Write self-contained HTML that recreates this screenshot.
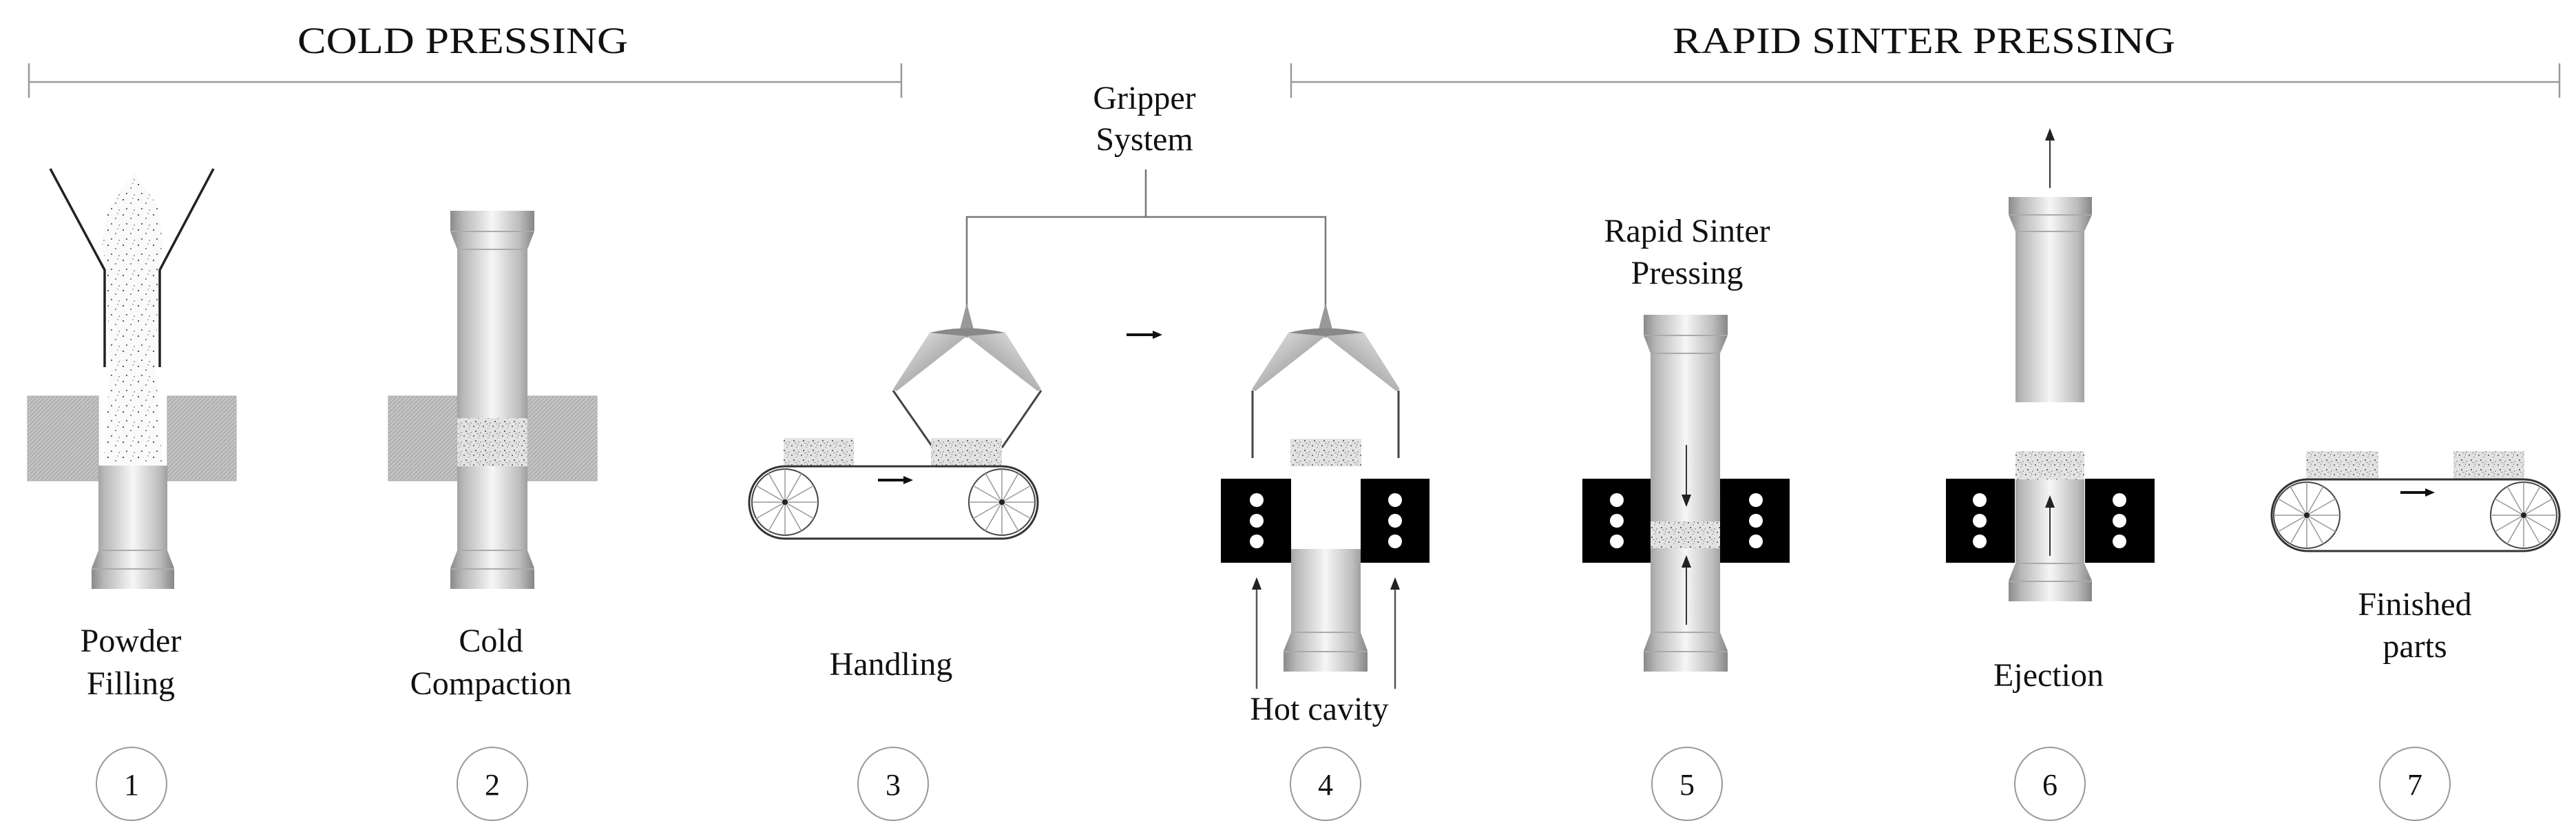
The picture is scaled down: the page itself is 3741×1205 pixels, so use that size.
<!DOCTYPE html>
<html><head><meta charset="utf-8"><style>
html,body{margin:0;padding:0;background:#fff}
svg{display:block}
text{font-family:"Liberation Serif",serif;fill:#111}
</style></head><body>
<svg width="3741" height="1205" viewBox="0 0 3741 1205" xmlns="http://www.w3.org/2000/svg">
<defs>
<linearGradient id="met" x1="0" y1="0" x2="1" y2="0">
<stop offset="0" stop-color="#8a8a8a"/><stop offset="0.15" stop-color="#b8b8b8"/>
<stop offset="0.5" stop-color="#f6f6f6"/><stop offset="0.82" stop-color="#bdbdbd"/>
<stop offset="1" stop-color="#868686"/></linearGradient>
<linearGradient id="wing" x1="0" y1="0" x2="1" y2="1">
<stop offset="0" stop-color="#f0f0f0"/><stop offset="1" stop-color="#7a7a7a"/></linearGradient>
<linearGradient id="wing2" x1="1" y1="0" x2="0" y2="1">
<stop offset="0" stop-color="#f0f0f0"/><stop offset="1" stop-color="#7a7a7a"/></linearGradient>
<pattern id="pow" width="14" height="14" patternUnits="userSpaceOnUse">
<rect width="14" height="14" fill="#e2e2e2"/>
<rect x="1" y="2" width="2" height="2" fill="#777"/><rect x="8" y="5" width="2" height="1" fill="#999"/>
<rect x="4" y="9" width="2" height="2" fill="#666"/><rect x="11" y="11" width="2" height="2" fill="#aaa"/>
<rect x="10" y="1" width="1" height="2" fill="#888"/><rect x="6" y="13" width="3" height="1" fill="#999"/>
</pattern>
<pattern id="sparse" width="22" height="22" patternUnits="userSpaceOnUse">
<rect width="22" height="22" fill="#fafafa"/>
<rect x="2" y="3" width="2" height="2" fill="#555"/><rect x="13" y="8" width="2" height="2" fill="#888"/>
<rect x="7" y="16" width="2" height="2" fill="#666"/><rect x="18" y="18" width="2" height="2" fill="#aaa"/>
<rect x="16" y="1" width="2" height="2" fill="#bbb"/>
</pattern>
<pattern id="hatch" width="6" height="6" patternUnits="userSpaceOnUse">
<rect width="6" height="6" fill="#c4c4c4"/><path d="M0,6 L6,0" stroke="#a8a8a8" stroke-width="1.5"/>
</pattern>
<marker id="ah" markerWidth="18" markerHeight="14" refX="4" refY="7" orient="auto" markerUnits="userSpaceOnUse" viewBox="0 0 18 14">
<path d="M0,0 L18,7 L0,14 Z" fill="#222"/></marker>
<marker id="ahb" markerWidth="14" markerHeight="12" refX="6" refY="6" orient="auto" markerUnits="userSpaceOnUse" viewBox="0 0 14 12">
<path d="M0,0 L14,6 L0,12 Z" fill="#111"/></marker>
</defs>

<text x="672" y="77" font-size="54" text-anchor="middle" textLength="480" lengthAdjust="spacingAndGlyphs">COLD PRESSING</text>
<g stroke="#999" stroke-width="2.5" fill="none">
<path d="M42,92 V142 M42,119 H1309 M1309,92 V142"/>
<path d="M1875,92 V142 M1875,119 H3717 M3717,92 V142"/>
</g>
<text x="2794" y="77" font-size="54" text-anchor="middle" textLength="730" lengthAdjust="spacingAndGlyphs">RAPID SINTER PRESSING</text>

<text x="1662" y="158" font-size="48" text-anchor="middle">Gripper</text>
<text x="1662" y="218" font-size="48" text-anchor="middle">System</text>
<path d="M1664,246 V315 M1404,454 V315 H1925 V454" stroke="#777" stroke-width="2.5" fill="none"/>

<g>
<path d="M1404,440 L1414,478 L1394,478 Z" fill="#999"/>
<path d="M1350,483 Q1404,470 1460,483 L1404,490 Z" fill="#888"/>
<path d="M1350,483 L1404,488 L1302,568 L1297,565 Z" fill="url(#wing)"/>
<path d="M1460,483 L1404,488 L1507,568 L1512,565 Z" fill="url(#wing2)"/>
<path d="M1297,567 L1355,650 M1512,567 L1455,650" stroke="#444" stroke-width="3"/>
</g>
<g>
<path d="M1925,440 L1935,478 L1915,478 Z" fill="#999"/>
<path d="M1871,483 Q1925,470 1981,483 L1925,490 Z" fill="#888"/>
<path d="M1871,483 L1925,488 L1823,568 L1818,565 Z" fill="url(#wing)"/>
<path d="M1981,483 L1925,488 L2028,568 L2033,565 Z" fill="url(#wing2)"/>
<path d="M1819,567 V665 M2031,567 V665" stroke="#444" stroke-width="3"/>
</g>
<line x1="1636" y1="486" x2="1680" y2="486" stroke="#111" stroke-width="4" marker-end="url(#ahb)"/>

<polygon points="194,250 230,300 236,350 230,400 226,535 236,676 150,676 160,540 155,400 148,350 158,300" fill="url(#sparse)"/>
<path d="M73,245 L152,392 V533 M310,245 L232,392 V533" stroke="#222" stroke-width="3.5" fill="none"/>
<rect x="40" y="575" width="103" height="123" fill="url(#hatch)" stroke="#aaa"/>
<rect x="243" y="575" width="100" height="123" fill="url(#hatch)" stroke="#aaa"/>
<path d="M143,676 H243 V799 L253,825 V855 H133 V825 L143,799 Z" fill="url(#met)"/>
<path d="M143,799 H243 M133,826 H253" stroke="#aaa" stroke-width="2"/>
<text x="190" y="946" font-size="48" text-anchor="middle">Powder</text>
<text x="190" y="1008" font-size="48" text-anchor="middle">Filling</text>

<rect x="564" y="575" width="100" height="123" fill="url(#hatch)" stroke="#aaa"/>
<rect x="766" y="575" width="101" height="123" fill="url(#hatch)" stroke="#aaa"/>
<path d="M654,306 H776 V336 L766,362 V607 H664 V362 L654,336 Z" fill="url(#met)"/>
<path d="M654,336 H776 M664,362 H766" stroke="#aaa" stroke-width="2"/>
<rect x="664" y="607" width="102" height="70" fill="url(#pow)"/>
<path d="M664,677 H766 V799 L776,825 V855 H654 V825 L664,799 Z" fill="url(#met)"/>
<path d="M664,799 H766 M654,826 H776" stroke="#aaa" stroke-width="2"/>
<text x="713" y="946" font-size="48" text-anchor="middle">Cold</text>
<text x="713" y="1008" font-size="48" text-anchor="middle">Compaction</text>

<g>
<rect x="1138" y="636" width="102" height="41" fill="url(#pow)"/>
<rect x="1352" y="636" width="103" height="41" fill="url(#pow)"/>
<rect x="1088" y="677" width="419" height="105" rx="52" fill="none" stroke="#333" stroke-width="3"/>
<g stroke="#999" stroke-width="1.5">
<circle cx="1140" cy="729" r="48" fill="none" stroke="#444" stroke-width="2"/>
<path d="M1092,729 H1188 M1140,681 V777 M1098,705 L1182,753 M1098,753 L1182,705 M1116,687 L1164,771 M1116,771 L1164,687"/>
<circle cx="1455" cy="729" r="48" fill="none" stroke="#444" stroke-width="2"/>
<path d="M1407,729 H1503 M1455,681 V777 M1413,705 L1497,753 M1413,753 L1497,705 M1431,687 L1479,771 M1431,771 L1479,687"/>
</g>
<circle cx="1140" cy="729" r="4" fill="#222"/><circle cx="1455" cy="729" r="4" fill="#222"/>
<line x1="1275" y1="697" x2="1318" y2="697" stroke="#111" stroke-width="4" marker-end="url(#ahb)"/>
</g>
<text x="1294" y="980" font-size="48" text-anchor="middle">Handling</text>

<rect x="1874" y="637" width="103" height="40" fill="url(#pow)"/>
<rect x="1773" y="695" width="102" height="122" fill="#000"/>
<rect x="1976" y="695" width="100" height="122" fill="#000"/>
<g fill="#fff"><circle cx="1825" cy="726" r="10"/><circle cx="1825" cy="756" r="10"/><circle cx="1825" cy="786" r="10"/>
<circle cx="2026" cy="726" r="10"/><circle cx="2026" cy="756" r="10"/><circle cx="2026" cy="786" r="10"/></g>
<path d="M1875,797 H1976 V918 L1986,945 V975 H1864 V945 L1875,918 Z" fill="url(#met)"/>
<path d="M1875,918 H1976 M1864,946 H1986" stroke="#aaa" stroke-width="2"/>
<path d="M1825,1000 V852" stroke="#555" stroke-width="2.5" marker-end="url(#ah)"/>
<path d="M2026,1000 V852" stroke="#555" stroke-width="2.5" marker-end="url(#ah)"/>
<text x="1916" y="1045" font-size="48" text-anchor="middle">Hot cavity</text>

<text x="2450" y="351" font-size="48" text-anchor="middle">Rapid Sinter</text>
<text x="2450" y="412" font-size="48" text-anchor="middle">Pressing</text>
<rect x="2298" y="695" width="100" height="122" fill="#000"/>
<rect x="2498" y="695" width="101" height="122" fill="#000"/>
<g fill="#fff"><circle cx="2348" cy="726" r="10"/><circle cx="2348" cy="756" r="10"/><circle cx="2348" cy="786" r="10"/>
<circle cx="2550" cy="726" r="10"/><circle cx="2550" cy="756" r="10"/><circle cx="2550" cy="786" r="10"/></g>
<path d="M2387,457 H2509 V487 L2498,513 V757 H2397 V513 L2387,487 Z" fill="url(#met)"/>
<path d="M2387,487 H2509 M2397,513 H2498" stroke="#aaa" stroke-width="2"/>
<rect x="2397" y="757" width="101" height="39" fill="url(#pow)"/>
<path d="M2397,796 H2498 V918 L2509,945 V975 H2387 V945 L2397,918 Z" fill="url(#met)"/>
<path d="M2397,918 H2498 M2387,946 H2509" stroke="#aaa" stroke-width="2"/>
<path d="M2449,646 V722" stroke="#333" stroke-width="2" marker-end="url(#ah)"/>
<path d="M2449,907 V820" stroke="#333" stroke-width="2" marker-end="url(#ah)"/>

<path d="M2977,273 V200" stroke="#333" stroke-width="2" marker-end="url(#ah)"/>
<path d="M2917,286 H3038 V312 L3027,336 V584 H2927 V336 L2917,312 Z" fill="url(#met)"/>
<path d="M2917,312 H3038 M2927,336 H3027" stroke="#aaa" stroke-width="2"/>
<rect x="2826" y="695" width="100" height="122" fill="#000"/>
<rect x="3028" y="695" width="101" height="122" fill="#000"/>
<g fill="#fff"><circle cx="2875" cy="726" r="10"/><circle cx="2875" cy="756" r="10"/><circle cx="2875" cy="786" r="10"/>
<circle cx="3078" cy="726" r="10"/><circle cx="3078" cy="756" r="10"/><circle cx="3078" cy="786" r="10"/></g>
<rect x="2927" y="655" width="100" height="41" fill="url(#pow)"/>
<path d="M2927,696 H3027 V818 L3038,843 V873 H2917 V843 L2927,818 Z" fill="url(#met)"/>
<path d="M2927,818 H3027 M2917,844 H3038" stroke="#aaa" stroke-width="2"/>
<path d="M2977,807 V733" stroke="#333" stroke-width="2" marker-end="url(#ah)"/>
<text x="2975" y="996" font-size="48" text-anchor="middle">Ejection</text>

<rect x="3349" y="655" width="105" height="41" fill="url(#pow)"/>
<rect x="3563" y="655" width="103" height="41" fill="url(#pow)"/>
<rect x="3299" y="696" width="418" height="104" rx="52" fill="none" stroke="#333" stroke-width="3"/>
<g stroke="#999" stroke-width="1.5">
<circle cx="3350" cy="748" r="48" fill="none" stroke="#444" stroke-width="2"/>
<path d="M3302,748 H3398 M3350,700 V796 M3308,724 L3392,772 M3308,772 L3392,724 M3326,706 L3374,790 M3326,790 L3374,706"/>
<circle cx="3665" cy="748" r="48" fill="none" stroke="#444" stroke-width="2"/>
<path d="M3617,748 H3713 M3665,700 V796 M3623,724 L3707,772 M3623,772 L3707,724 M3641,706 L3689,790 M3641,790 L3689,706"/>
</g>
<circle cx="3350" cy="748" r="4" fill="#222"/><circle cx="3665" cy="748" r="4" fill="#222"/>
<line x1="3486" y1="715" x2="3528" y2="715" stroke="#111" stroke-width="4" marker-end="url(#ahb)"/>
<text x="3507" y="893" font-size="48" text-anchor="middle">Finished</text>
<text x="3507" y="954" font-size="48" text-anchor="middle">parts</text>

<g fill="none" stroke="#999" stroke-width="2">
<ellipse cx="191" cy="1138" rx="51" ry="53"/><ellipse cx="715" cy="1138" rx="51" ry="53"/>
<ellipse cx="1297" cy="1138" rx="51" ry="53"/><ellipse cx="1925" cy="1138" rx="51" ry="53"/>
<ellipse cx="2450" cy="1138" rx="51" ry="53"/><ellipse cx="2977" cy="1138" rx="51" ry="53"/>
<ellipse cx="3507" cy="1138" rx="51" ry="53"/>
</g>
<g font-size="44" text-anchor="middle">
<text x="191" y="1154">1</text><text x="715" y="1154">2</text><text x="1297" y="1154">3</text>
<text x="1925" y="1154">4</text><text x="2450" y="1154">5</text><text x="2977" y="1154">6</text>
<text x="3507" y="1154">7</text>
</g>
</svg>
</body></html>
